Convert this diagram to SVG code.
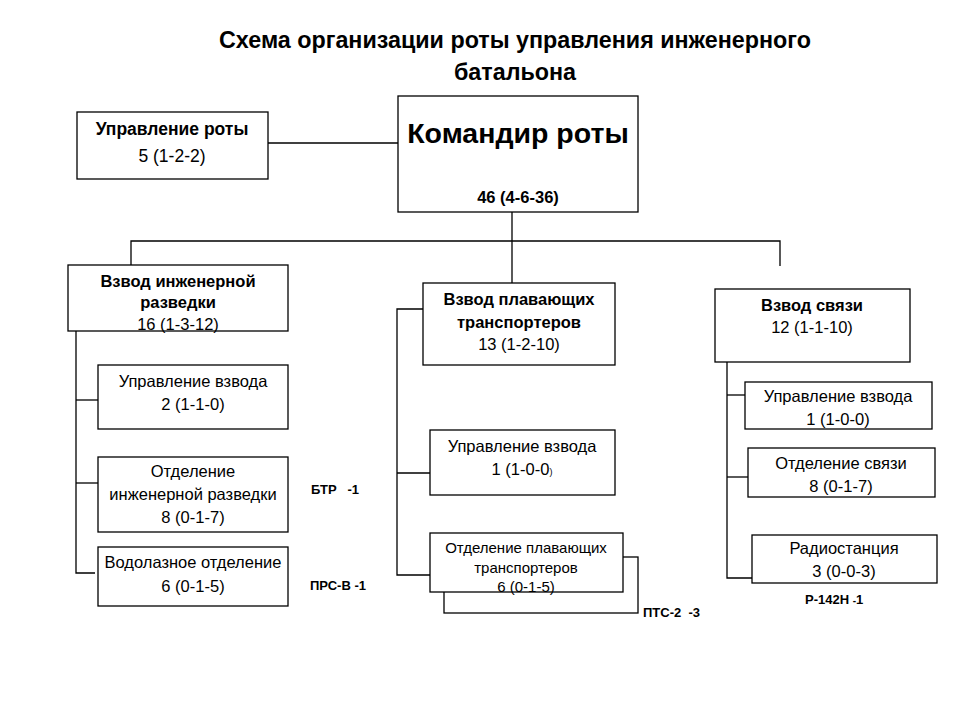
<svg xmlns="http://www.w3.org/2000/svg" width="960" height="720" viewBox="0 0 960 720">
<style>
.box{fill:#fff;stroke:#000;stroke-width:1.3}
.ln{fill:none;stroke:#000;stroke-width:1.3}
text{font-family:"Liberation Sans",Arial,sans-serif;fill:#000;text-anchor:middle}
.t{font-size:16.5px}
.b{font-size:16.5px;font-weight:bold}
.s{font-size:13px;font-weight:bold;text-anchor:start;white-space:pre}
.sm{font-size:15px}
</style>
<rect width="960" height="720" fill="#fff"/>
<g id="title">
<text x="515" y="48" style="font-size:23.3px;font-weight:bold">Схема организации роты управления инженерного</text>
<text x="515" y="80" style="font-size:23.3px;font-weight:bold">батальона</text>
</g>
<g id="connectors">
<line class="ln" x1="268" y1="143" x2="398" y2="143"/>
<line class="ln" x1="512" y1="212" x2="512" y2="283"/>
<polyline class="ln" points="131,265 131,241 780,241 780,266"/>
<polyline class="ln" points="76,331 76,573 95,573"/>
<line class="ln" x1="76" y1="400" x2="98" y2="400"/>
<line class="ln" x1="76" y1="483" x2="98" y2="483"/>
<polyline class="ln" points="423,309 397,309 397,575 430,575"/>
<line class="ln" x1="397" y1="473" x2="430" y2="473"/>
<polyline class="ln" points="727,362 727,578 752,578"/>
<line class="ln" x1="727" y1="395" x2="745" y2="395"/>
<line class="ln" x1="727" y1="477" x2="748" y2="477"/>
</g>
<g id="upr-roty">
<rect class="box" x="77" y="112" width="191" height="67"/>
<text x="172" y="135" style="font-size:17.5px;font-weight:bold">Управление роты</text>
<text x="172" y="162" style="font-size:17.5px">5 (1-2-2)</text>
</g>
<g id="komandir">
<rect class="box" x="398" y="96" width="240" height="116"/>
<text x="518" y="143" style="font-size:28.5px;font-weight:bold">Командир роты</text>
<text class="b" x="518" y="203">46 (4-6-36)</text>
</g>
<g id="vzvod-razv">
<rect class="box" x="68" y="265" width="220" height="66"/>
<text class="b" x="178" y="287">Взвод инженерной</text>
<text class="b" x="178" y="308">разведки</text>
<text class="t" x="178" y="330">16 (1-3-12)</text>
</g>
<g id="razv-upr">
<rect class="box" x="98" y="365" width="190" height="64"/>
<text class="t" x="193" y="387">Управление взвода</text>
<text class="t" x="193" y="410">2 (1-1-0)</text>
</g>
<g id="razv-otd">
<rect class="box" x="98" y="457" width="190" height="75"/>
<text class="t" x="193" y="477">Отделение</text>
<text class="t" x="193" y="500">инженерной разведки</text>
<text class="t" x="193" y="523">8 (0-1-7)</text>
</g>
<g id="razv-vodol">
<rect class="box" x="98" y="547" width="190" height="59"/>
<text class="t" x="193" y="568">Водолазное отделение</text>
<text class="t" x="193" y="592">6 (0-1-5)</text>
</g>
<text class="s" x="311" y="494">БТР   -1</text>
<text class="s" x="310" y="590">ПРС-В -1</text>
<g id="vzvod-plav">
<rect class="box" x="423" y="283" width="192" height="82"/>
<text class="b" x="519" y="305">Взвод плавающих</text>
<text class="b" x="519" y="328">транспортеров</text>
<text class="t" x="519" y="350">13 (1-2-10)</text>
</g>
<g id="plav-upr">
<rect class="box" x="430" y="430" width="185" height="65"/>
<text class="t" x="522" y="452">Управление взвода</text>
<text class="t" x="522" y="475">1 (1-0-0<tspan style="font-size:9px">)</tspan></text>
</g>
<g id="plav-otd">
<rect class="box" x="444" y="557" width="194" height="56"/>
<rect class="box" x="430" y="533" width="193" height="59"/>
<text class="sm" x="526" y="553">Отделение плавающих</text>
<text class="sm" x="526" y="573">транспортеров</text>
<text class="sm" x="526" y="592">6 (0-1-5)</text>
</g>
<text class="s" x="643" y="617">ПТС-2  -3</text>
<g id="vzvod-svyazi">
<rect class="box" x="715" y="289" width="195" height="73"/>
<text class="b" x="812" y="311">Взвод связи</text>
<text class="t" x="812" y="333">12 (1-1-10)</text>
</g>
<g id="sv-upr">
<rect class="box" x="745" y="382" width="187" height="47"/>
<text class="t" x="838" y="402">Управление взвода</text>
<text class="t" x="838" y="425">1 (1-0-0)</text>
</g>
<g id="sv-otd">
<rect class="box" x="748" y="448" width="187" height="49"/>
<text class="t" x="841" y="469">Отделение связи</text>
<text class="t" x="841" y="492">8 (0-1-7)</text>
</g>
<g id="sv-radio">
<rect class="box" x="752" y="535" width="185" height="48"/>
<text class="t" x="844" y="554">Радиостанция</text>
<text class="t" x="844" y="577">3 (0-0-3)</text>
</g>
<text class="s" x="805" y="604">Р-142Н <tspan style="font-size:10px">-</tspan>1</text>
</svg>
